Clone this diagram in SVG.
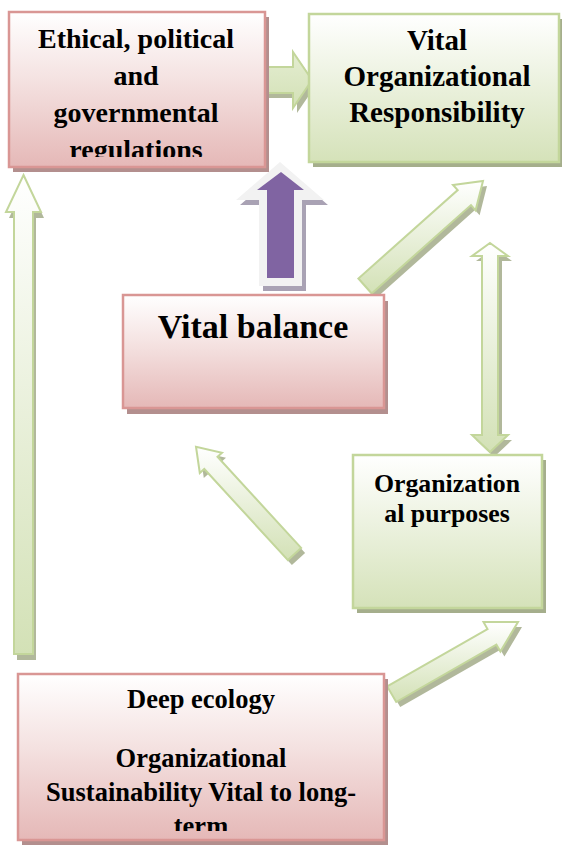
<svg xmlns="http://www.w3.org/2000/svg" width="562" height="845" viewBox="0 0 562 845">
  <defs>
    <linearGradient id="gPink" x1="0" y1="0" x2="0" y2="1">
      <stop offset="0" stop-color="#ffffff"/>
      <stop offset="0.45" stop-color="#f4e1e0"/>
      <stop offset="1" stop-color="#e5b8b7"/>
    </linearGradient>
    <linearGradient id="gGreen" x1="0" y1="0" x2="0" y2="1">
      <stop offset="0" stop-color="#ffffff"/>
      <stop offset="1" stop-color="#d5e2b9"/>
    </linearGradient>
    <linearGradient id="gArrow" x1="0" y1="0" x2="0" y2="1">
      <stop offset="0" stop-color="#ffffff"/>
      <stop offset="1" stop-color="#d3e1b6"/>
    </linearGradient>
    <linearGradient id="gArrowFlat" x1="0" y1="0" x2="0" y2="1">
      <stop offset="0" stop-color="#e4edd1"/>
      <stop offset="1" stop-color="#d3e1b6"/>
    </linearGradient>
    <clipPath id="clipEth"><rect x="9" y="12" width="256" height="145"/></clipPath>
    <clipPath id="clipDeep"><rect x="18" y="674" width="366" height="157"/></clipPath>
  </defs>
  <style>
    .pbox { fill: url(#gPink); stroke: #d99694; stroke-width: 2.5; }
    .gbox { fill: url(#gGreen); stroke: #c3d69b; stroke-width: 2.5; }
    .pshadow { fill: #b38f8e; }
    .gshadow { fill: #a5ae8c; }
    .arrow { fill: url(#gArrow); stroke: #c3d69b; stroke-width: 2; stroke-linejoin: miter; }
    .ashadow { fill: #a3ac89; opacity: 0.85; }
    text { font-family: "Liberation Serif", "DejaVu Serif", "Noto Serif", "Times New Roman", serif; font-weight: bold; fill: #000; text-anchor: middle; }
  </style>

  <g id="connectors">
    <polygon class="ashadow" transform="translate(4,5)" points="261,67 293,67 293,52 312,80 293,108 293,93 261,93"/>
    <polygon class="arrow" style="fill:url(#gArrowFlat)" points="261,67 293,67 293,52 312,80 293,108 293,93 261,93"/>

    <polygon fill="#a9a2b4" transform="translate(4,5)" points="280,162 324,200 302,200 302,286 259,286 259,200 236,200"/>
    <polygon fill="#f2f2f2" points="280,162 324,200 302,200 302,286 259,286 259,200 236,200"/>
    <polygon fill="#8064a2" points="281,172 304,190 294,190 294,278 267,278 267,190 257,190"/>

    <polygon class="ashadow" transform="translate(4,5)" points="371.7,293.5 471.0,205.1 475.6,210.3 483,181 453.0,184.9 457.7,190.1 358.4,278.5"/>
    <polygon class="arrow" points="371.7,293.5 471.0,205.1 475.6,210.3 483,181 453.0,184.9 457.7,190.1 358.4,278.5"/>

    <polygon class="ashadow" transform="translate(4,5)" points="490,243 508,256 498,256 498,435 508,435 490,452 472,435 482,435 482,256 472,256"/>
    <polygon class="arrow" points="490,243 508,256 498,256 498,435 508,435 490,452 472,435 482,435 482,256 472,256"/>

    <polygon class="ashadow" transform="translate(4,5)" points="301.1,547.9 217.5,456.8 222.0,452.8 196,446.7 199.8,473.0 204.3,469.0 287.9,560.1"/>
    <polygon class="arrow" points="301.1,547.9 217.5,456.8 222.0,452.8 196,446.7 199.8,473.0 204.3,469.0 287.9,560.1"/>

    <polygon class="ashadow" transform="translate(4,5)" points="396.2,702.0 496.4,644.7 500.4,651.6 518,622 483.5,622.1 487.5,629.1 387.2,686.4"/>
    <polygon class="arrow" points="396.2,702.0 496.4,644.7 500.4,651.6 518,622 483.5,622.1 487.5,629.1 387.2,686.4"/>

    <polygon class="ashadow" transform="translate(3,6)" points="23.5,175 41,212 33,212 33,654 14,654 14,212 6,212"/>
    <polygon class="arrow" points="23.5,175 41,212 33,212 33,654 14,654 14,212 6,212"/>
  </g>

  <g id="node-ethical">
    <rect class="pshadow" x="13" y="17" width="256" height="155"/>
    <rect class="pbox" x="9" y="12" width="256" height="155"/>
    <g clip-path="url(#clipEth)">
      <text x="136" y="48" font-size="28">Ethical, political</text>
      <text x="136" y="85" font-size="28">and</text>
      <text x="136" y="122" font-size="28">governmental</text>
      <text x="136" y="159" font-size="28">regulations</text>
    </g>
  </g>

  <g id="node-vor">
    <rect class="gshadow" x="313" y="19" width="250" height="148"/>
    <rect class="gbox" x="309" y="14" width="250" height="148"/>
    <text x="437" y="50" font-size="29">Vital</text>
    <text x="437" y="86" font-size="29">Organizational</text>
    <text x="437" y="122" font-size="29">Responsibility</text>
  </g>

  <g id="node-balance">
    <rect class="pshadow" x="127" y="301" width="261" height="113"/>
    <rect class="pbox" x="123" y="295" width="261" height="113"/>
    <text x="253" y="338" font-size="34">Vital balance</text>
  </g>

  <g id="node-purposes">
    <rect class="gshadow" x="357" y="460" width="189" height="153"/>
    <rect class="gbox" x="353" y="455" width="189" height="153"/>
    <text x="447" y="492" font-size="25.8">Organization</text>
    <text x="447" y="522" font-size="25.8">al purposes</text>
  </g>

  <g id="node-deep">
    <rect class="pshadow" x="22" y="679" width="366" height="166"/>
    <rect class="pbox" x="18" y="674" width="366" height="166"/>
    <g clip-path="url(#clipDeep)">
      <text x="201" y="708" font-size="26.5">Deep ecology</text>
      <text x="201" y="767" font-size="26.5">Organizational</text>
      <text x="201" y="801" font-size="26.5">Sustainability Vital to long-</text>
      <text x="201" y="835" font-size="26.5">term</text>
    </g>
  </g>
</svg>
